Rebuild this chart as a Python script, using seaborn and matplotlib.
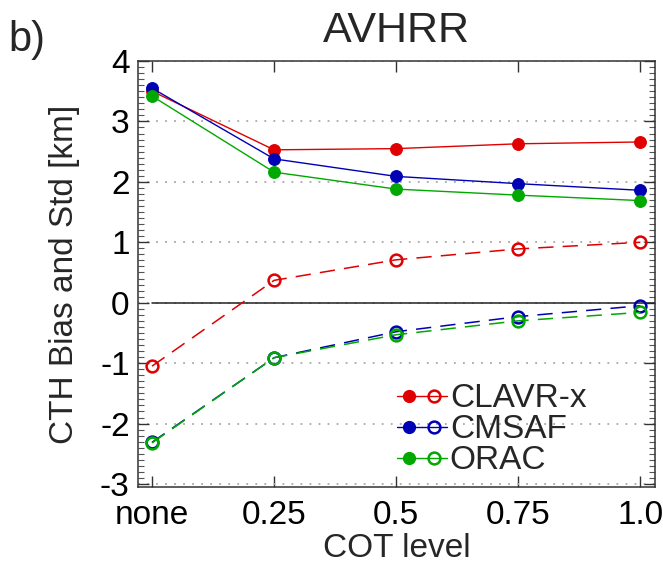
import matplotlib
matplotlib.use("Agg")
import matplotlib.pyplot as plt
import seaborn as sns
import pandas as pd
import numpy as np
from matplotlib.lines import Line2D
from matplotlib.legend_handler import HandlerTuple
from matplotlib.ticker import MultipleLocator

# ---- data ----
levels = ["none", "0.25", "0.5", "0.75", "1.0"]
products = ["CLAVR-x", "CMSAF", "ORAC"]
std_clavrx = [3.50, 2.53, 2.55, 2.63, 2.66]
std_cmsaf = [3.55, 2.38, 2.09, 1.97, 1.86]
std_orac = [3.42, 2.16, 1.88, 1.78, 1.69]
bias_clavrx = [-1.05, 0.37, 0.71, 0.89, 1.00]
bias_cmsaf = [-2.31, -0.91, -0.48, -0.23, -0.05]
bias_orac = [-2.32, -0.91, -0.53, -0.30, -0.16]
colors = {"CLAVR-x": "#e00000", "CMSAF": "#0000b4", "ORAC": "#00a800"}

rows = []
for prod, s, b in zip(products, [std_clavrx, std_cmsaf, std_orac],
                      [bias_clavrx, bias_cmsaf, bias_orac]):
    for i, lev in enumerate(levels):
        rows.append(dict(product=prod, stat="Std", pos=i, level=lev, value=s[i]))
        rows.append(dict(product=prod, stat="Bias", pos=i, level=lev, value=b[i]))
df = pd.DataFrame(rows)

sns.set_theme(style="ticks")
plt.rcParams["font.family"] = ["Liberation Sans", "DejaVu Sans"]

fig = plt.figure(figsize=(6.63, 5.70), dpi=100)
ax = fig.add_axes([138 / 663, 1 - 487 / 570, (655 - 138) / 663, (487 - 61) / 570])

ax.set_xlim(-0.115, 4.12)
ax.set_ylim(-3.05, 4.0)

# grid + zero line
ax.yaxis.set_major_locator(MultipleLocator(1))
ax.yaxis.set_minor_locator(MultipleLocator(0.1))
ax.grid(axis="y", which="major", linestyle=(0, (1, 4)), color="#a8a8a8", lw=1.3)
ax.axhline(0, xmin=0.115 / 4.235, xmax=1, color="#222222", lw=1.1, zorder=2)

for prod in products:
    sub = df[(df["product"] == prod) & (df["stat"] == "Std")]
    sns.lineplot(data=sub, x="pos", y="value", ax=ax, color=colors[prod],
                 lw=1.0, marker="o", markersize=8.5, markeredgecolor=colors[prod],
                 markerfacecolor=colors[prod], zorder=4, legend=False)
for prod in products:
    sub = df[(df["product"] == prod) & (df["stat"] == "Bias")]
    sns.lineplot(data=sub, x="pos", y="value", ax=ax, color=colors[prod],
                 lw=1.1, linestyle=(0, (10, 6)), marker="o", markersize=8.5,
                 markeredgecolor=colors[prod], markerfacecolor="none",
                 markeredgewidth=1.8, zorder=4, legend=False)

ax.set_xticks(range(len(levels)))
ax.set_xticklabels(levels)
ax.tick_params(axis="x", which="major", direction="in", top=True, bottom=True,
               length=8, width=1.0, labelsize=24, pad=9, colors="#333333",
               labelcolor="black")
ax.tick_params(axis="y", which="major", direction="in", left=True, right=True,
               length=8, width=1.0, labelsize=24, pad=6, colors="#333333",
               labelcolor="black")
ax.tick_params(axis="y", which="minor", direction="in", left=True, right=True,
               length=4, width=0.8, colors="#555555")
ax.set_yticks([-3, -2, -1, 0, 1, 2, 3, 4])
ax.set_yticklabels(["-3", "-2", "-1", "0", "1", "2", "3", "4"])

for sp in ax.spines.values():
    sp.set_linewidth(1.1)
    sp.set_color("#333333")

ax.set_xlabel("COT level", fontsize=24, labelpad=2)
ax.set_ylabel("CTH Bias and Std [km]", fontsize=24, labelpad=14)

fig.text(396 / 663, 1 - 31 / 570, "AVHRR", fontsize=31, ha="center", va="center")
fig.text(8 / 663, 1 - 40 / 570, "b)", fontsize=30, ha="left", va="center")

# legend
handles = []
for prod in products:
    c = colors[prod]
    h1 = Line2D([], [], color=c, lw=1.0, marker="o", markersize=8.5,
                markerfacecolor=c, markeredgecolor=c)
    h2 = Line2D([], [], color=c, lw=1.0, marker="o", markersize=8.5,
                markerfacecolor="none", markeredgecolor=c, markeredgewidth=1.8)
    handles.append((h1, h2))
leg = ax.legend(handles, products, handler_map={tuple: HandlerTuple(ndivide=None, pad=0.0)},
                loc="lower left", bbox_to_anchor=(0.50, 0.025), frameon=False,
                fontsize=24, handlelength=1.5, handletextpad=0.1,
                labelspacing=0.0, borderpad=0, borderaxespad=0)

fig.savefig("out.png", dpi=100)
